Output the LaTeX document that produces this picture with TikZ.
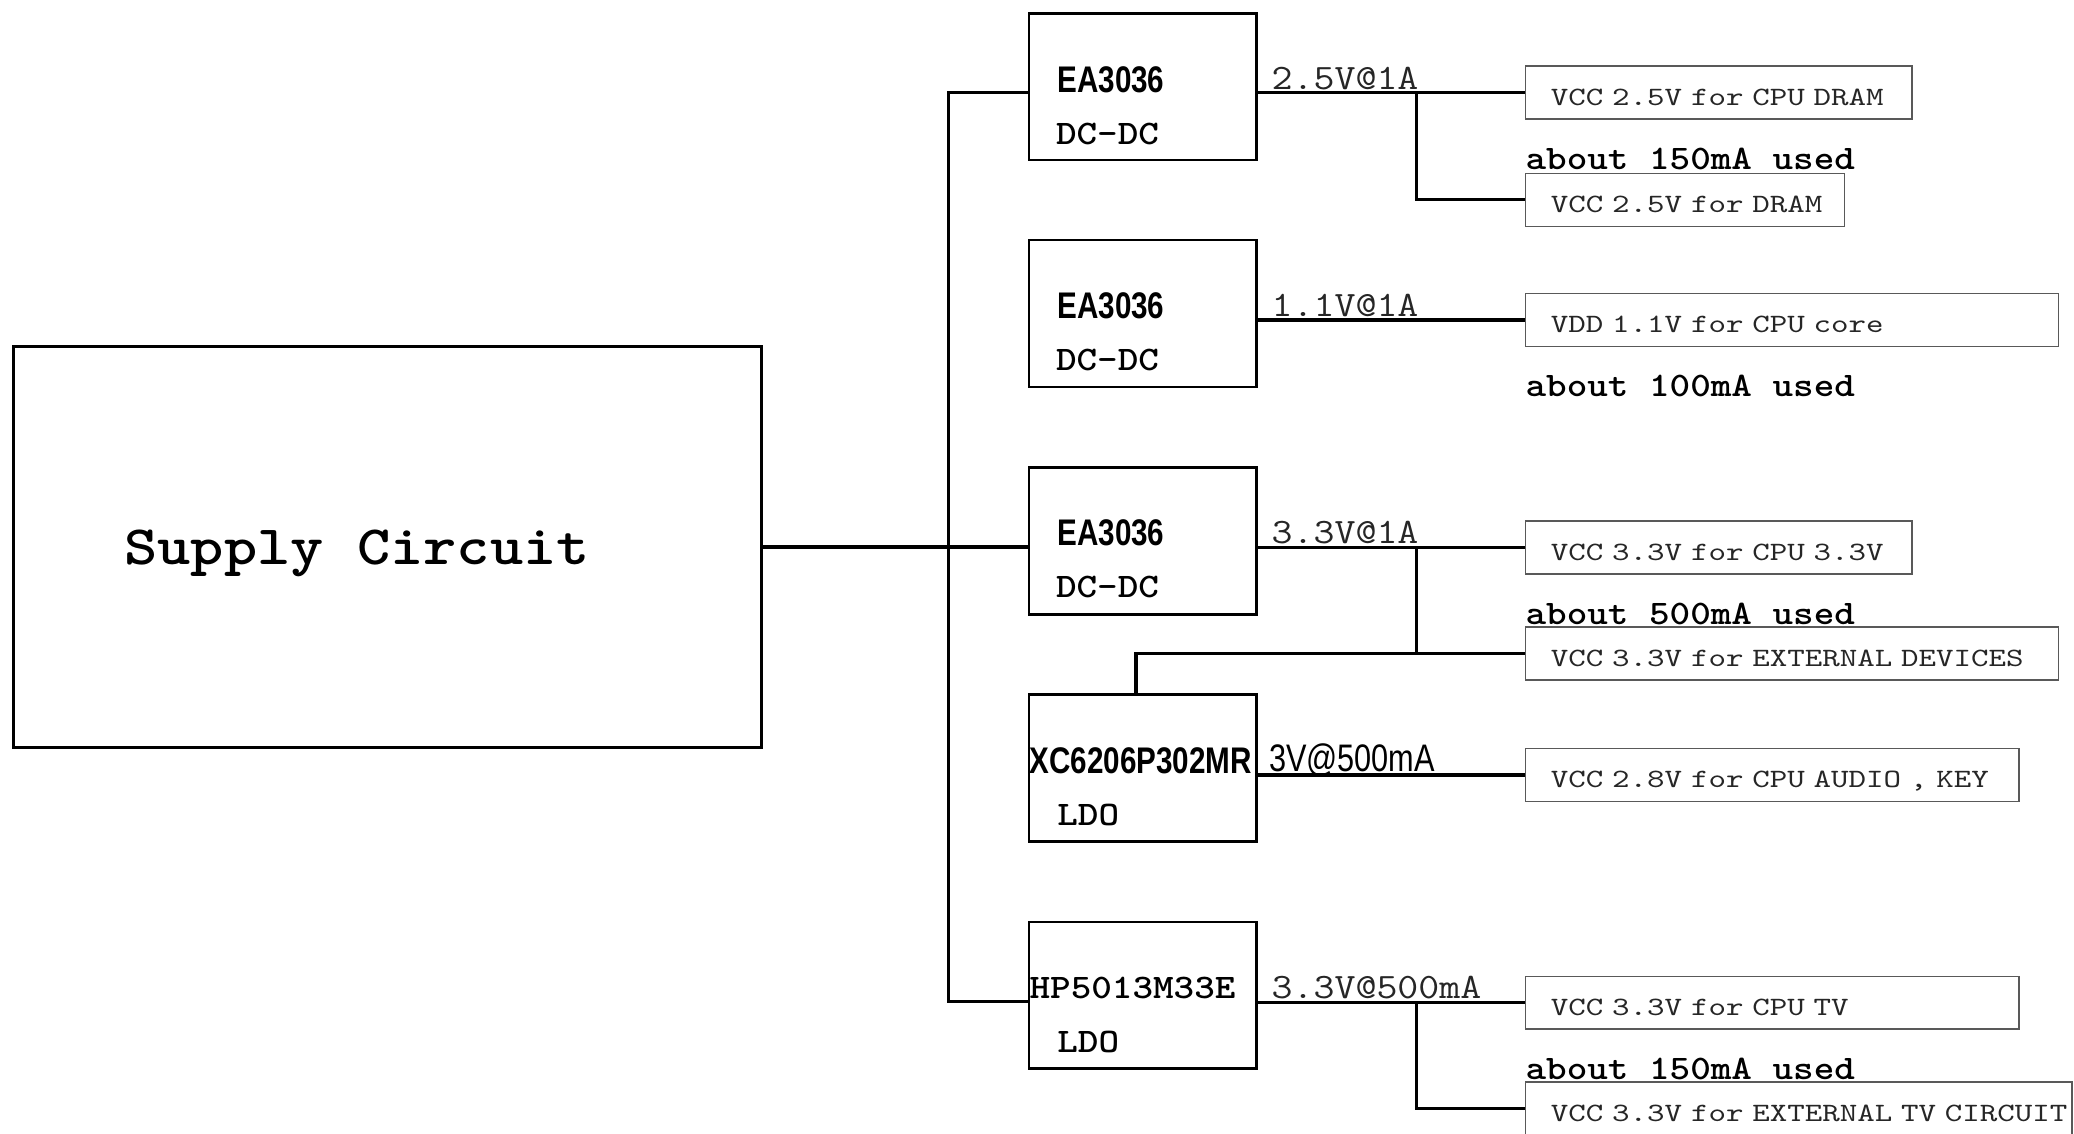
\documentclass[tikz,border=0pt]{standalone}
\usepackage{fontspec}
\newfontfamily\chipfont[FakeStretch=0.8]{Liberation Sans}
\newfontfamily\cour[FakeStretch=1.14]{Latin Modern Mono}
\newfontfamily\courwide[FakeStretch=1.26]{Latin Modern Mono}
\newfontfamily\courbf[FakeStretch=1.14]{lmmonolt10-bold.otf}
\usetikzlibrary{calc}

\begin{document}
\begin{tikzpicture}[x=0.5pt,y=-0.5pt,
	regbox/.style={draw, line width=1pt, minimum width=86pt, minimum height=55.5pt, inner sep=0pt},
	loadbox/.style={draw=black!65, line width=0.5pt, anchor=west, minimum height=20pt, inner xsep=9.5pt, inner ysep=0pt, text width=#1, text height=9.7pt, text depth=0pt, align=left, font=\courwide\fontsize{10}{12}\selectfont, text=black!85},
	wire/.style={line width=1.3pt},
	chip/.style={anchor=west, inner sep=0pt, font=\chipfont\bfseries\fontsize{14}{16}\selectfont},
	kind/.style={anchor=west, inner sep=0pt, font=\courbf\fontsize{13}{15}\selectfont},
	rail/.style={anchor=base west, inner sep=0pt, font=\cour\fontsize{13.5}{15}\selectfont, text=black!85},
	used/.style={anchor=west, inner sep=0pt, font=\courbf\fontsize{13}{15}\selectfont}]
		\useasboundingbox (0,0) rectangle (1568,857);
		
		%supply
		\node[draw, line width=1.2pt, minimum width=283pt, minimum height=151.5pt, inner sep=0pt] (sup) at (293,413.5) {};
		\node[inner sep=0pt, font=\courbf\fontsize{21}{24}\selectfont] (suplbl) at (270,418) {Supply Circuit};
		
		%regulators
		\node[regbox] (reg1) at (864,65.5) {};
		\node[regbox] (reg2) at (864,237) {};
		\node[regbox] (reg3) at (864,409) {};
		\node[regbox] (reg4) at (864,580.5) {};
		\node[regbox] (reg5) at (864,752.5) {};
		
		\node[chip] (name1) at (799,60) {EA3036};
		\node[kind] (kind1) at (798,101) {DC-DC};
		\node[chip] (name2) at (799,231) {EA3036};
		\node[kind] (kind2) at (798,272) {DC-DC};
		\node[chip] (name3) at (799,403) {EA3036};
		\node[kind] (kind3) at (798,444) {DC-DC};
		\node[chip] (name4) at (778,575) {XC6206P302MR};
		\node[kind] (kind4) at (799,616) {LDO};
		\node[kind] (name5) at (778,747) {HP5013M33E};
		\node[kind] (kind5) at (799,788) {LDO};
		
		%loads
		\node[loadbox=127pt] (load1) at (1153,70) {\mbox{VCC 2.5V for CPU DRAM}};
		\node[loadbox=101.5pt] (load2) at (1153,151) {\mbox{VCC 2.5V for DRAM}};
		\node[loadbox=182.5pt] (load3) at (1153,242) {\mbox{VDD 1.1V for CPU core}};
		\node[loadbox=127pt] (load4) at (1153,414) {\mbox{VCC 3.3V for CPU 3.3V}};
		\node[loadbox=182.5pt] (load5) at (1153,494) {\mbox{VCC 3.3V for EXTERNAL DEVICES}};
		\node[loadbox=167.5pt] (load6) at (1153,586) {\mbox{VCC 2.8V for CPU AUDIO , KEY}};
		\node[loadbox=167.5pt] (load7) at (1153,758) {\mbox{VCC 3.3V for CPU TV}};
		\node[loadbox=187.5pt] (load8) at (1153,838) {\mbox{VCC 3.3V for EXTERNAL TV CIRCUIT}};
		
		\node[used] (used1) at (1153,120) {about 150mA used};
		\node[used] (used3) at (1153,292) {about 100mA used};
		\node[used] (used4) at (1153,464) {about 500mA used};
		\node[used] (used7) at (1153,808) {about 150mA used};
		
		%input bus
		\coordinate (bustop) at (717,70);
		\coordinate (busbot) at (717,757);
		\draw[wire] (sup.east) -- (sup.east -| reg3.west);
		\draw[wire] (reg1.west |- bustop) -- (bustop) -- (busbot) -- (reg5.west |- busbot);
		
		%outputs
		\draw[wire] (load1.west -| reg1.east) -- (load1.west);
		\draw[wire] (load3.west -| reg2.east) -- (load3.west);
		\draw[wire] (load4.west -| reg3.east) -- (load4.west);
		\draw[wire] (load6.west -| reg4.east) -- (load6.west);
		\draw[wire] (load7.west -| reg5.east) -- (load7.west);
		
		\coordinate (tap1) at (1071,70);
		\coordinate (tap3) at (1071,414);
		\coordinate (tap5) at (1071,758);
		\draw[wire] (tap1) |- (load2.west);
		\draw[wire] (tap3) |- (load5.west);
		\draw[wire] ([xshift=-2.5pt]reg4.north) |- (load5.west);
		\draw[wire] (tap5) |- (load8.west);
		
		%rail labels
		\node[rail] (rail1) at (961,68) {2.5V@1A};
		\node[rail] (rail2) at (961,239) {1.1V@1A};
		\node[rail] (rail3) at (961,411) {3.3V@1A};
		\node[anchor=base west, inner sep=0pt, font=\chipfont\fontsize{14.5}{16}\selectfont] (rail4) at (959,583) {3V@500mA};
		\node[rail] (rail5) at (961,755) {3.3V@500mA};
		
\end{tikzpicture}
\end{document}
